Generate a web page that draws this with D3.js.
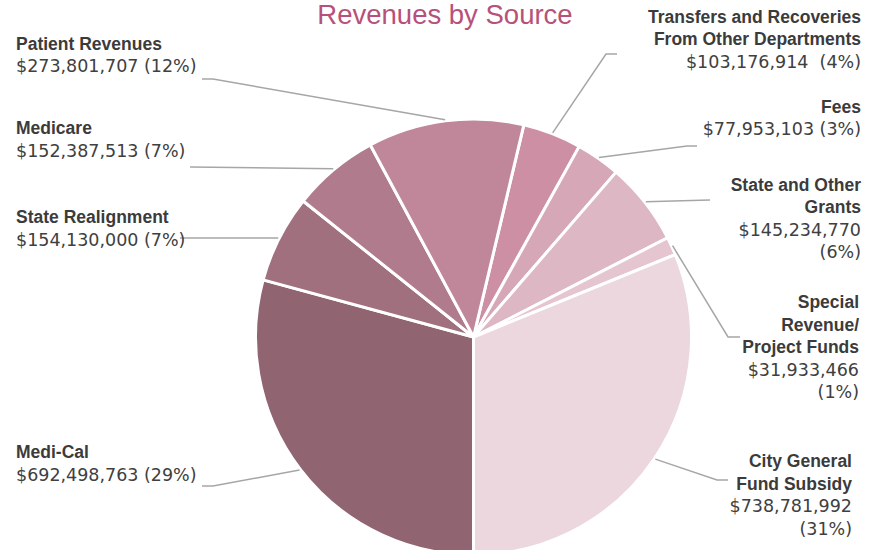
<!DOCTYPE html>
<html>
<head>
<meta charset="utf-8">
<script src="https://cdn.jsdelivr.net/npm/d3@7"></script>
<style>
  body { margin: 0; background: #fff; }
  .name { font-family: "Liberation Sans", Arial, sans-serif; font-weight: bold; font-size: 17.5px; fill: #3b3b3b; }
  .val { font-family: "DejaVu Sans", sans-serif; font-size: 17.5px; fill: #404040; }
  .title { font-family: "Liberation Sans", Arial, sans-serif; font-size: 27.5px; fill: #b8517a; }
</style>
</head>
<body>
<div id="chart-area"></div>
<script>
// pie order, clockwise from the top-right
const categories = [
    "Transfers and Recoveries\nFrom Other Departments",
    "Fees",
    "State and Other\nGrants",
    "Special\nRevenue/\nProject Funds",
    "City General\nFund Subsidy",
    "Medi-Cal",
    "State Realignment",
    "Medicare",
    "Patient Revenues"
];
const values = [103176914, 77953103, 145234770, 31933466, 738781992, 692498763, 154130000, 152387513, 273801707];
const shares = [4, 3, 6, 1, 31, 29, 7, 7, 12];
const colors = ["#cd8fa3", "#d6a7b6", "#ddb7c3", "#e5c6d0", "#ecd7de", "#916472", "#a0707f", "#b07b8c", "#c0879a"];

// label layout: anchor, x, first baseline, value split on two lines, leader elbow and end
const labelLayout = [
    {anchor: "end", x: 861, y: 22.7, split: false, gap: "  ", elbow: [606, 54], end: [617, 54]},
    {anchor: "end", x: 861, y: 112.7, split: false, gap: " ", elbow: [687, 146], end: [697, 146]},
    {anchor: "end", x: 861, y: 191, split: true, elbow: [710, 200], end: [710, 200]},
    {anchor: "end", x: 859, y: 308.3, split: true, elbow: [728, 337], end: [740, 337]},
    {anchor: "end", x: 852, y: 467.3, split: true, elbow: [717, 480], end: [728, 480]},
    {anchor: "start", x: 16, y: 458.3, split: false, gap: " ", elbow: [213, 486], end: [202, 486]},
    {anchor: "start", x: 16, y: 223.3, split: false, gap: " ", elbow: [180, 238], end: [180, 238]},
    {anchor: "start", x: 16, y: 134.3, split: false, gap: " ", elbow: [190, 167], end: [190, 167]},
    {anchor: "start", x: 16, y: 50, split: false, gap: " ", elbow: [213, 79], end: [202, 79]}
];

const chartSize = {width: 880, height: 550};
const center = {x: 473.5, y: 337};
const radius = 218;
const lineHeight = 22.4;

const drawPie = () => {
    const rows = categories.map((c, i) => ({name: c, value: values[i], share: shares[i], color: colors[i], layout: labelLayout[i]}));

    // rotate so the City General Fund slice ends straight down
    const total = d3.sum(values);
    const before = d3.sum(values.slice(0, 5));
    const offset = Math.PI - 2 * Math.PI * before / total;

    const pie = d3.pie().sort(null).value(d => d.value)
        .startAngle(offset).endAngle(offset + 2 * Math.PI);
    const arc = d3.arc().innerRadius(0).outerRadius(radius);

    const svg = d3.select("#chart-area")
        .append("svg")
        .attr("width", chartSize.width)
        .attr("height", chartSize.height);

    svg.append("text")
        .attr("class", "title")
        .attr("x", 445)
        .attr("y", 23.5)
        .attr("text-anchor", "middle")
        .text("Revenues by Source");

    const pieG = svg.append("g").attr("transform", `translate(${center.x}, ${center.y})`);

    const slices = pie(rows);

    pieG.selectAll("path").data(slices).enter()
        .append("path")
        .attr("d", arc)
        .attr("fill", d => d.data.color)
        .attr("stroke", "#fff")
        .attr("stroke-width", 3)
        .attr("stroke-linejoin", "round");

    const fmt = d3.format("$,");

    // leader lines from the middle of each slice edge
    svg.selectAll(".leader").data(slices).enter()
        .append("polyline")
        .attr("class", "leader")
        .attr("fill", "none")
        .attr("stroke", "#a6a6a6")
        .attr("stroke-width", 1.5)
        .attr("points", d => {
            const a = (d.startAngle + d.endAngle) / 2;
            const sx = center.x + (radius + 1) * Math.sin(a);
            const sy = center.y - (radius + 1) * Math.cos(a);
            const l = d.data.layout;
            return [[sx, sy], l.elbow, l.end].map(p => p.join(",")).join(" ");
        });

    const labels = svg.selectAll(".label").data(rows).enter()
        .append("text")
        .attr("class", "label")
        .attr("text-anchor", d => d.layout.anchor);

    labels.each(function (d) {
        const t = d3.select(this);
        const l = d.layout;
        const nameLines = d.name.split("\n");
        const valueLines = l.split
            ? [fmt(d.value), `(${d.share}%)`]
            : [`${fmt(d.value)}${l.gap}(${d.share}%)`];
        nameLines.forEach((s, i) => {
            t.append("tspan").attr("class", "name")
                .attr("x", l.x).attr("y", l.y + i * lineHeight)
                .text(s);
        });
        valueLines.forEach((s, i) => {
            t.append("tspan").attr("class", "val")
                .attr("x", l.x).attr("y", l.y + (nameLines.length + i) * lineHeight)
                .attr("xml:space", "preserve")
                .style("white-space", "pre")
                .text(s);
        });
    });
};

window.onload = drawPie;
</script>
</body>
</html>
